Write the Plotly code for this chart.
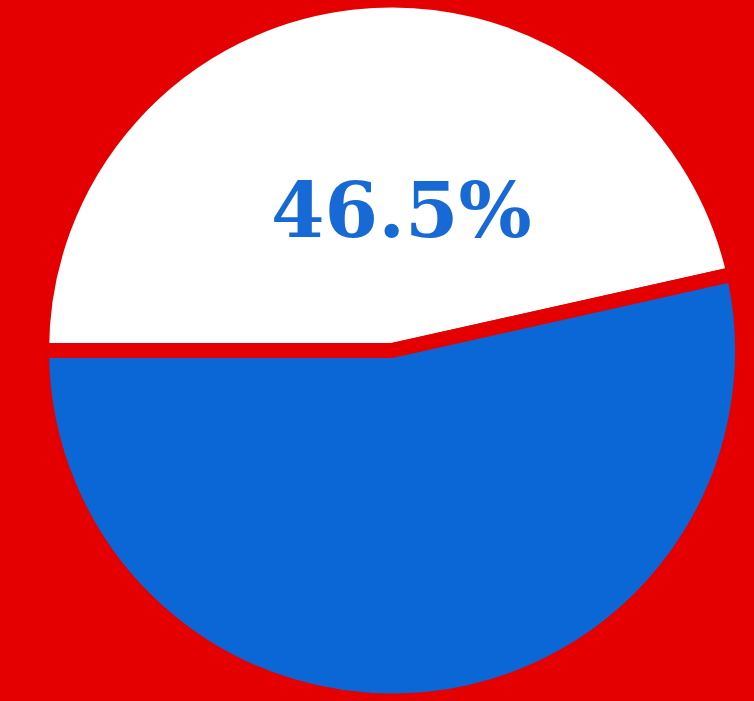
import plotly.graph_objects as go

labels = ["White", "Blue"]
values = [46.5, 53.5]
colors = ["#FFFFFF", "#0B66D6"]
bg = "#E40000"

fig = go.Figure()
fig.add_trace(go.Pie(
    labels=labels,
    values=values,
    sort=False,
    direction="clockwise",
    rotation=-90,
    textinfo="none",
    hoverinfo="label+percent",
    marker=dict(colors=colors, line=dict(color=bg, width=15)),
    showlegend=False,
    domain=dict(x=[0.04, 1.0], y=[0.0, 1.0]),
))

fig.add_annotation(
    x=0.533, y=1 - 210 / 701, xref="paper", yref="paper",
    xanchor="center", yanchor="middle",
    text=f"{values[0]}%",
    showarrow=False,
    font=dict(family="DejaVu Serif", size=77, color="#1769D6", weight="bold"),
)

fig.update_layout(
    width=754, height=701,
    margin=dict(l=0, r=0, t=0, b=0),
    paper_bgcolor=bg, plot_bgcolor=bg,
)

fig.write_html("out.html")
